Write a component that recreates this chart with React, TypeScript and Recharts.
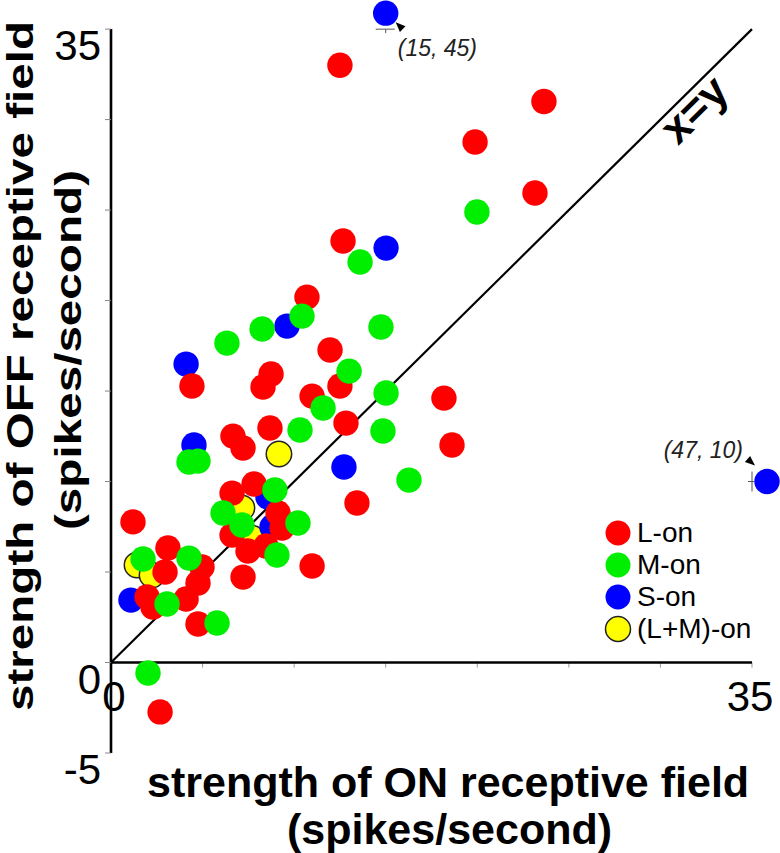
import React from 'react';
import { ScatterChart, Scatter, XAxis, YAxis, ReferenceLine, ReferenceDot, Legend } from 'recharts';

const FONT = '"Liberation Sans", Arial, Helvetica, sans-serif';

// ---- data (strength of ON field x, strength of OFF field y, spikes/second) ----
const lOn = [
  { x: 12.5, y: 33.0 }, { x: 23.64, y: 31.0 }, { x: 19.88, y: 28.76 }, { x: 23.15, y: 25.94 },
  { x: 12.67, y: 23.29 }, { x: 10.7, y: 20.19 }, { x: 11.96, y: 17.27 }, { x: 8.74, y: 15.94 },
  { x: 8.3, y: 15.22 }, { x: 4.42, y: 15.28 }, { x: 12.5, y: 15.28 }, { x: 10.98, y: 14.72 },
  { x: 18.18, y: 14.61 }, { x: 6.66, y: 12.51 }, { x: 7.21, y: 11.85 }, { x: 8.68, y: 12.96 },
  { x: 12.83, y: 13.23 }, { x: 18.62, y: 12.02 }, { x: 13.43, y: 8.81 }, { x: 7.81, y: 9.86 },
  { x: 6.61, y: 9.36 }, { x: 9.12, y: 8.26 }, { x: 9.34, y: 7.43 }, { x: 6.61, y: 7.04 },
  { x: 7.48, y: 6.16 }, { x: 8.46, y: 6.44 }, { x: 1.2, y: 7.77 }, { x: 3.11, y: 6.33 },
  { x: 2.95, y: 5.0 }, { x: 4.97, y: 5.28 }, { x: 4.75, y: 4.39 }, { x: 7.21, y: 4.72 },
  { x: 10.98, y: 5.33 }, { x: 1.97, y: 3.62 }, { x: 2.29, y: 3.07 }, { x: 4.1, y: 3.51 },
  { x: 4.75, y: 2.13 }, { x: 2.68, y: -2.73 },
];
const mOn = [
  { x: 19.98, y: 24.89 }, { x: 13.6, y: 22.13 }, { x: 10.43, y: 19.14 }, { x: 8.25, y: 18.43 },
  { x: 6.33, y: 17.65 }, { x: 14.74, y: 18.54 }, { x: 13.0, y: 16.1 }, { x: 15.02, y: 14.89 },
  { x: 11.58, y: 14.06 }, { x: 10.32, y: 12.85 }, { x: 14.85, y: 12.79 }, { x: 16.27, y: 10.08 },
  { x: 4.26, y: 11.08 }, { x: 4.75, y: 11.13 }, { x: 8.95, y: 9.53 }, { x: 6.12, y: 8.26 },
  { x: 10.21, y: 7.71 }, { x: 7.15, y: 7.6 }, { x: 9.06, y: 5.94 }, { x: 1.75, y: 5.72 },
  { x: 4.26, y: 5.77 }, { x: 3.06, y: 3.23 }, { x: 5.79, y: 2.18 }, { x: 2.02, y: -0.58 },
];
const sOn = [
  { x: 15.02, y: 22.9 }, { x: 9.61, y: 18.59 }, { x: 4.1, y: 16.49 }, { x: 4.53, y: 12.02 },
  { x: 12.72, y: 10.8 }, { x: 8.57, y: 9.14 }, { x: 8.79, y: 7.49 }, { x: 1.09, y: 3.45 },
];
// S-on cells lying off the plotted range (true values); drawn at the axis break
const sOnOutliers = [
  { x: 15, y: 45 },
  { x: 47, y: 10 },
];
const lmOn = [
  { x: 9.17, y: 11.52 }, { x: 7.15, y: 8.54 }, { x: 7.7, y: 6.88 }, { x: 1.42, y: 5.39 }, { x: 2.24, y: 4.83 },
];

const xLabelTicks = [0, 35];
const xMinorTicks = [5, 10, 15, 20, 25, 30, 35];
const yTicks = [-5, 0, 5, 10, 15, 20, 25, 30, 35];
const yLabelTicks = [-5, 0, 35];
const X_BREAK = 35.82;
const Y_BREAK = 35.88;

const COLORS = { L: '#ff0000', M: '#00ee00', S: '#0000ff', LM: '#ffff00' };

const sOnPlotted = [
  ...sOn,
  ...sOnOutliers.map((p) => ({ x: Math.min(p.x, X_BREAK), y: Math.min(p.y, Y_BREAK), tx: p.x, ty: p.y })),
];

const legendItems = [
  { name: 'L-on', fill: COLORS.L, stroke: 'none' },
  { name: 'M-on', fill: COLORS.M, stroke: 'none' },
  { name: 'S-on', fill: COLORS.S, stroke: 'none' },
  { name: '(L+M)-on', fill: COLORS.LM, stroke: '#222' },
];

const R = 12.7;
const dot = (fill: string, stroke?: string) => (props: any) => (
  <circle cx={props.cx} cy={props.cy} r={R} fill={fill} stroke={stroke || 'none'} strokeWidth={stroke ? 1.5 : 0} />
);

const YTick = (props: any) => {
  const { x, y, payload } = props;
  if (!yLabelTicks.includes(payload.value)) return <g />;
  return (
    <text x={x} y={y + 31} textAnchor="end" fontSize={42} fontFamily={FONT} fill="#000">
      {payload.value}
    </text>
  );
};

const XTick = (props: any) => {
  const { x, y, payload } = props;
  const v = payload.value;
  return (
    <text x={x + (v === 0 ? 3 : -2)} y={y - 42} textAnchor="middle" fontSize={42} fontFamily={FONT} fill="#000">
      {v}
    </text>
  );
};

const YTitle = () => (
  <g fontFamily={FONT} fontWeight="bold" fill="#000">
    <text x={33} y={366} transform="rotate(-90 33 366)" textAnchor="middle" fontSize={36}
      textLength={690} lengthAdjust="spacingAndGlyphs">strength of OFF receptive field</text>
    <text x={81} y={350} transform="rotate(-90 81 350)" textAnchor="middle" fontSize={36}
      textLength={360} lengthAdjust="spacingAndGlyphs">(spikes/second)</text>
  </g>
);

const XTitle = () => (
  <g fontFamily={FONT} fontWeight="bold" fill="#000" fontSize={43}>
    <text x={147} y={797}>strength of ON receptive field</text>
    <text x={287} y={844}>(spikes/second)</text>
  </g>
);

const TopOutlierNote = (props: any) => {
  const { cx, cy } = props;
  const p = sOnOutliers[0];
  return (
    <g>
      <line x1={cx - 10} x2={cx + 9} y1={cy + 16} y2={cy + 16} stroke="#555" strokeWidth={1} />
      <line x1={cx} x2={cx} y1={cy + 16} y2={cy + 20} stroke="#555" strokeWidth={1} />
      <polygon points={`${cx + 10},${cy + 9} ${cx + 19.8},${cy + 13.2} ${cx + 14.2},${cy + 18.8}`} fill="#000" />
      <text x={cx + 12} y={cy + 43} fontSize={23} fontStyle="italic" fontFamily={FONT} fill="#222">
        ({p.x}, {p.y})
      </text>
    </g>
  );
};

const RightOutlierNote = (props: any) => {
  const { cx, cy } = props;
  const p = sOnOutliers[1];
  return (
    <g>
      <line x1={cx - 15} x2={cx - 15} y1={cy - 10} y2={cy + 10} stroke="#555" strokeWidth={1} />
      <line x1={cx - 19} x2={cx - 13} y1={cy} y2={cy} stroke="#555" strokeWidth={1} />
      <polygon points={`${cx - 12},${cy - 16} ${cx - 22.1},${cy - 19.6} ${cx - 16.9},${cy - 25.6}`} fill="#000" />
      <text x={cx - 24} y={cy - 24} textAnchor="end" fontSize={23} fontStyle="italic" fontFamily={FONT} fill="#222">
        ({p.x}, {p.y})
      </text>
    </g>
  );
};

const DiagLabel = (props: any) => {
  const { cx, cy } = props;
  return (
    <text x={cx} y={cy} dy="0.3em" transform={`rotate(-44.7 ${cx} ${cy})`} textAnchor="middle"
      fontSize={44} fontWeight="bold" fontFamily={FONT} fill="#000">x=y</text>
  );
};

const LegendContent = () => (
  <div style={{ fontFamily: FONT, fontSize: 28, color: '#000' }}>
    {legendItems.map((it) => (
      <div key={it.name} style={{ display: 'flex', alignItems: 'center', height: 32, whiteSpace: 'nowrap' }}>
        <svg width={28} height={28} style={{ display: 'block' }}>
          <circle cx={14} cy={14} r={12.5} fill={it.fill} stroke={it.stroke} strokeWidth={1.5} />
        </svg>
        <span style={{ marginLeft: 5, lineHeight: '30px' }}>{it.name}</span>
      </div>
    ))}
  </div>
);

export default function App() {
  return (
    <div style={{ position: 'absolute', left: 0, top: 0, width: 780, height: 853, background: '#fff' }}>
      <ScatterChart width={780} height={853} margin={{ top: 11, right: 9.7, bottom: 70, left: 0 }}>
        <XAxis type="number" dataKey="x" domain={[0, 36]} ticks={xLabelTicks} interval={0}
          axisLine={false} tickLine={false} tickSize={0} tickMargin={0} height={30}
          tick={<XTick />} label={{ content: <XTitle /> }} />
        <YAxis type="number" dataKey="y" domain={[-5, 36]} ticks={yTicks} interval={0}
          axisLine={false} tickLine={{ stroke: '#888', strokeWidth: 1 }} tickSize={6} tickMargin={4} width={111}
          tick={<YTick />} label={{ content: <YTitle /> }} />
        <Legend layout="vertical" align="center" verticalAlign="middle" content={<LegendContent />}
          wrapperStyle={{ position: 'absolute', left: 604, top: 517, width: 176 }} />

        {xMinorTicks.map((t) => (
          <ReferenceLine key={'xt' + t} segment={[{ x: t, y: 0 }, { x: t, y: -0.28 }]} stroke="#999" strokeWidth={1} />
        ))}
        <ReferenceLine segment={[{ x: 0, y: 0 }, { x: 35, y: 0 }]} stroke="#000" strokeWidth={2.6} />
        <ReferenceLine segment={[{ x: 0, y: -5 }, { x: 0, y: 35 }]} stroke="#000" strokeWidth={2.6} />
        <ReferenceLine segment={[{ x: 0, y: 0 }, { x: 35, y: 35 }]} stroke="#000" strokeWidth={2.2} />
        <ReferenceDot x={31.9} y={30.5} r={0} shape={<DiagLabel />} />

        <Scatter name="(L+M)-on" data={lmOn} isAnimationActive={false} shape={dot(COLORS.LM, '#222')} />
        <Scatter name="S-on" data={sOnPlotted} isAnimationActive={false} shape={dot(COLORS.S)} />
        <Scatter name="L-on" data={lOn} isAnimationActive={false} shape={dot(COLORS.L)} />
        <Scatter name="M-on" data={mOn} isAnimationActive={false} shape={dot(COLORS.M)} />

        <ReferenceDot x={Math.min(sOnOutliers[0].x, X_BREAK)} y={Math.min(sOnOutliers[0].y, Y_BREAK)} r={0} shape={<TopOutlierNote />} />
        <ReferenceDot x={Math.min(sOnOutliers[1].x, X_BREAK)} y={Math.min(sOnOutliers[1].y, Y_BREAK)} r={0} shape={<RightOutlierNote />} />
      </ScatterChart>
    </div>
  );
}
